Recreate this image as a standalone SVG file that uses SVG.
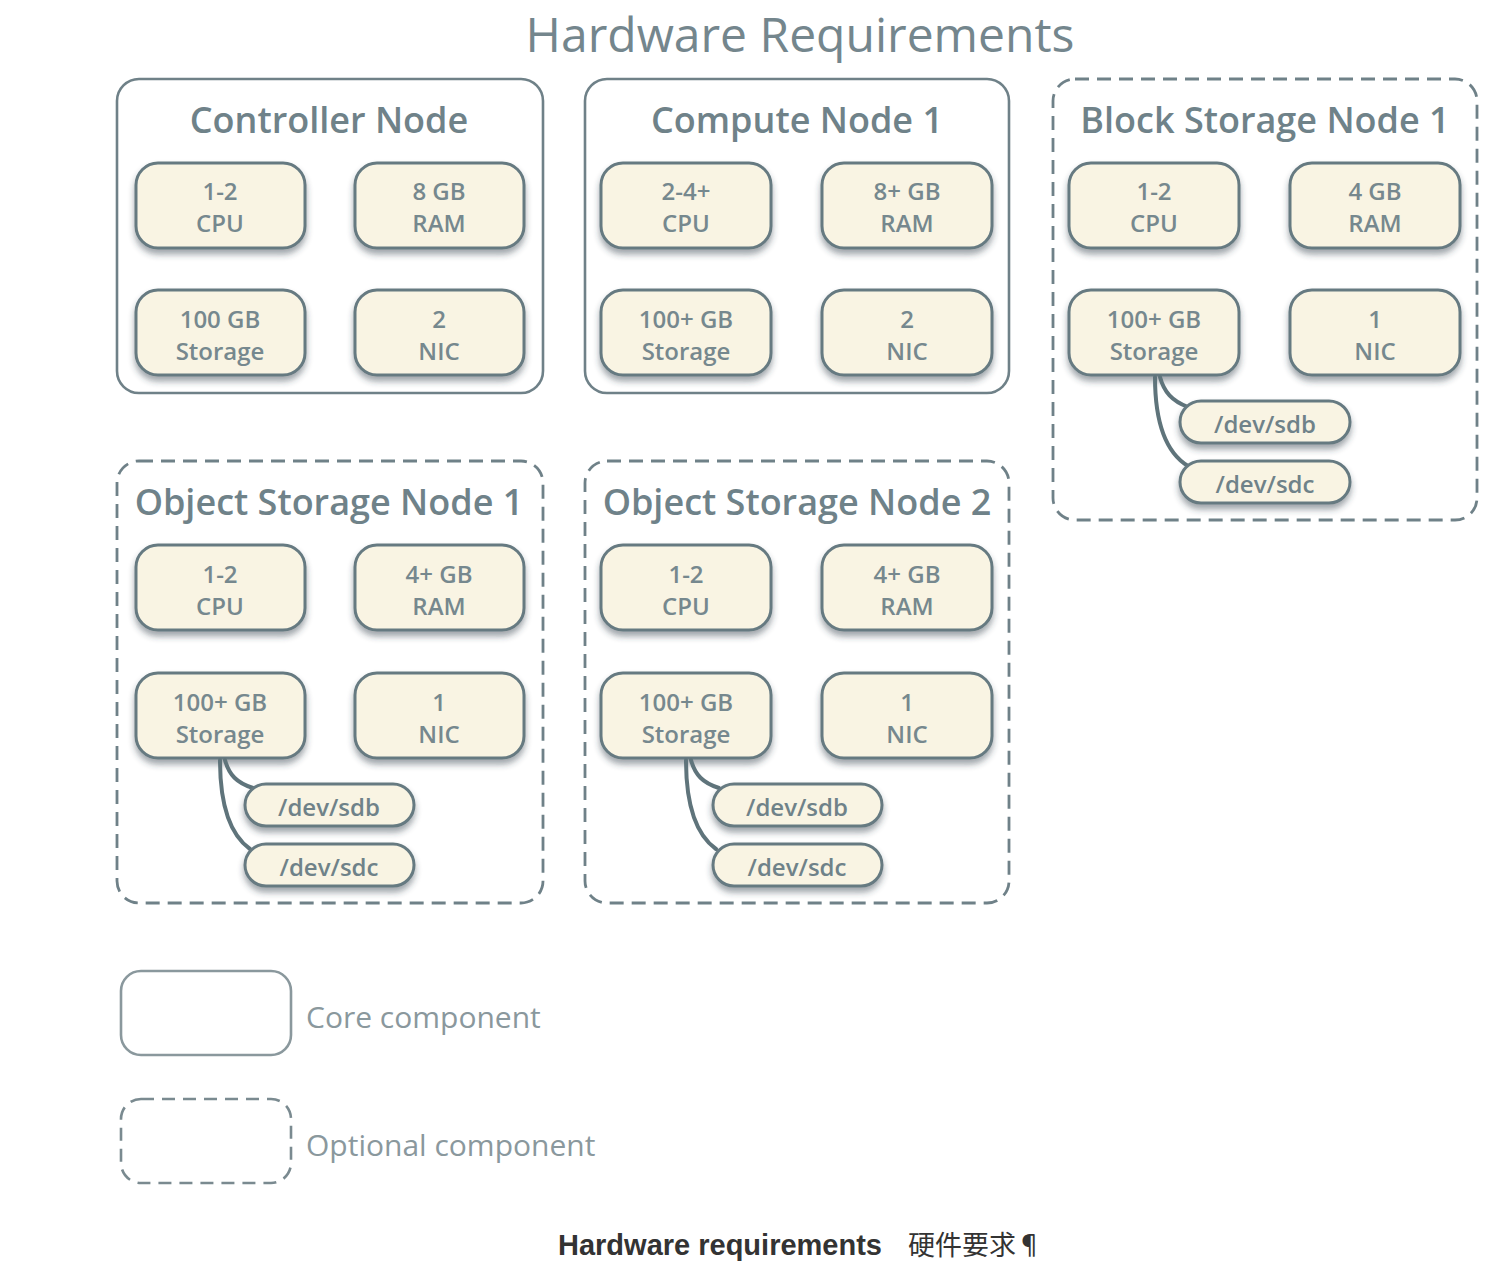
<svg xmlns="http://www.w3.org/2000/svg" width="1502" height="1286" viewBox="0 0 1502 1286">
<defs>
<filter id="sh" x="-20%" y="-20%" width="140%" height="160%">
<feDropShadow dx="0" dy="5" stdDeviation="3" flood-color="#2c3e44" flood-opacity="0.45"/>
</filter>
<style>
.node{fill:#fff;stroke:#6f8188;stroke-width:2.6}
.opt{fill:#fff;stroke:#6f8188;stroke-width:2.8;stroke-dasharray:14 8}
.comp{fill:#f9f4e3;stroke:#667a81;stroke-width:3;filter:url(#sh)}
.ntitle{font-family:"Open Sans","DejaVu Sans",sans-serif;font-weight:600;font-size:36px;fill:#6f8289;text-anchor:middle}
.ct{font-family:"Open Sans","DejaVu Sans",sans-serif;font-weight:600;font-size:24px;fill:#76888e;text-anchor:middle}
.pt{font-family:"Open Sans","DejaVu Sans",sans-serif;font-weight:600;font-size:24px;fill:#6f8289;text-anchor:middle}
.conn{fill:none;stroke:#5f747b;stroke-width:4;stroke-linecap:round}
.leg{font-family:"Open Sans","DejaVu Sans",sans-serif;font-size:30px;fill:#8a989d}
</style>
</defs>
<rect width="1502" height="1286" fill="#fff"/>
<text x="800" y="52" style="font-family:'Open Sans','DejaVu Sans',sans-serif;font-size:48px;fill:#74868d;text-anchor:middle">Hardware Requirements</text>

<g id="controller-node">
<rect class="node" x="117" y="79" width="426" height="314" rx="22"/>
<text class="ntitle" x="329" y="133">Controller Node</text>
<rect class="comp" x="136" y="163" width="169" height="85" rx="22"/>
<text class="ct" x="220" y="200">1-2</text><text class="ct" x="220" y="232">CPU</text>
<rect class="comp" x="355" y="163" width="169" height="85" rx="22"/>
<text class="ct" x="439" y="200">8 GB</text><text class="ct" x="439" y="232">RAM</text>
<rect class="comp" x="136" y="290" width="169" height="85" rx="22"/>
<text class="ct" x="220" y="328">100 GB</text><text class="ct" x="220" y="360">Storage</text>
<rect class="comp" x="355" y="290" width="169" height="85" rx="22"/>
<text class="ct" x="439" y="328">2</text><text class="ct" x="439" y="360">NIC</text>
</g>

<g id="compute-node-1">
<rect class="node" x="585" y="79" width="424" height="314" rx="22"/>
<text class="ntitle" x="797" y="133">Compute Node 1</text>
<rect class="comp" x="601" y="163" width="170" height="85" rx="22"/>
<text class="ct" x="686" y="200">2-4+</text><text class="ct" x="686" y="232">CPU</text>
<rect class="comp" x="822" y="163" width="170" height="85" rx="22"/>
<text class="ct" x="907" y="200">8+ GB</text><text class="ct" x="907" y="232">RAM</text>
<rect class="comp" x="601" y="290" width="170" height="85" rx="22"/>
<text class="ct" x="686" y="328">100+ GB</text><text class="ct" x="686" y="360">Storage</text>
<rect class="comp" x="822" y="290" width="170" height="85" rx="22"/>
<text class="ct" x="907" y="328">2</text><text class="ct" x="907" y="360">NIC</text>
</g>

<g id="block-storage-node-1">
<rect class="opt" x="1053" y="79" width="424" height="441" rx="22"/>
<text class="ntitle" x="1265" y="133">Block Storage Node 1</text>
<rect class="comp" x="1069" y="163" width="170" height="85" rx="22"/>
<text class="ct" x="1154" y="200">1-2</text><text class="ct" x="1154" y="232">CPU</text>
<rect class="comp" x="1290" y="163" width="170" height="85" rx="22"/>
<text class="ct" x="1375" y="200">4 GB</text><text class="ct" x="1375" y="232">RAM</text>
<rect class="comp" x="1069" y="290" width="170" height="85" rx="22"/>
<text class="ct" x="1154" y="328">100+ GB</text><text class="ct" x="1154" y="360">Storage</text>
<rect class="comp" x="1290" y="290" width="170" height="85" rx="22"/>
<text class="ct" x="1375" y="328">1</text><text class="ct" x="1375" y="360">NIC</text>
</g>

<g id="object-storage-node-1">
<rect class="opt" x="117" y="461" width="426" height="442" rx="22"/>
<text class="ntitle" x="329" y="515">Object Storage Node 1</text>
<rect class="comp" x="136" y="545" width="169" height="85" rx="22"/>
<text class="ct" x="220" y="583">1-2</text><text class="ct" x="220" y="615">CPU</text>
<rect class="comp" x="355" y="545" width="169" height="85" rx="22"/>
<text class="ct" x="439" y="583">4+ GB</text><text class="ct" x="439" y="615">RAM</text>
<rect class="comp" x="136" y="673" width="169" height="85" rx="22"/>
<text class="ct" x="220" y="711">100+ GB</text><text class="ct" x="220" y="743">Storage</text>
<rect class="comp" x="355" y="673" width="169" height="85" rx="22"/>
<text class="ct" x="439" y="711">1</text><text class="ct" x="439" y="743">NIC</text>
</g>

<g id="object-storage-node-2">
<rect class="opt" x="585" y="461" width="424" height="442" rx="22"/>
<text class="ntitle" x="797" y="515">Object Storage Node 2</text>
<rect class="comp" x="601" y="545" width="170" height="85" rx="22"/>
<text class="ct" x="686" y="583">1-2</text><text class="ct" x="686" y="615">CPU</text>
<rect class="comp" x="822" y="545" width="170" height="85" rx="22"/>
<text class="ct" x="907" y="583">4+ GB</text><text class="ct" x="907" y="615">RAM</text>
<rect class="comp" x="601" y="673" width="170" height="85" rx="22"/>
<text class="ct" x="686" y="711">100+ GB</text><text class="ct" x="686" y="743">Storage</text>
<rect class="comp" x="822" y="673" width="170" height="85" rx="22"/>
<text class="ct" x="907" y="711">1</text><text class="ct" x="907" y="743">NIC</text>
</g>

<g id="connectors">
<path class="conn" d="M1160 377 C1164 392,1172 401,1188 407"/>
<path class="conn" d="M1155 377 C1155 420,1165 452,1188 466"/>
<path class="conn" d="M225 760 C229 775,237 783,253 788"/>
<path class="conn" d="M220 760 C220 803,229 834,250 849"/>
<path class="conn" d="M691 760 C695 775,703 783,719 788"/>
<path class="conn" d="M686 760 C686 803,695 834,716 849"/>
</g>

<g id="block-sdb"><rect class="comp" x="1180" y="401" width="170" height="42" rx="21"/><text class="pt" x="1265" y="433">/dev/sdb</text></g>
<g id="block-sdc"><rect class="comp" x="1180" y="461" width="170" height="42" rx="21"/><text class="pt" x="1265" y="493">/dev/sdc</text></g>
<g id="obj1-sdb"><rect class="comp" x="245" y="784" width="169" height="42" rx="21"/><text class="pt" x="329" y="816">/dev/sdb</text></g>
<g id="obj1-sdc"><rect class="comp" x="245" y="844" width="169" height="42" rx="21"/><text class="pt" x="329" y="876">/dev/sdc</text></g>
<g id="obj2-sdb"><rect class="comp" x="713" y="784" width="169" height="42" rx="21"/><text class="pt" x="797" y="816">/dev/sdb</text></g>
<g id="obj2-sdc"><rect class="comp" x="713" y="844" width="169" height="42" rx="21"/><text class="pt" x="797" y="876">/dev/sdc</text></g>

<g id="legend-core">
<rect x="121" y="971" width="170" height="84" rx="20" fill="#fff" stroke="#8a989d" stroke-width="2.6"/>
<text class="leg" x="306" y="1028">Core component</text>
</g>
<g id="legend-optional">
<rect x="121" y="1099" width="170" height="84" rx="20" fill="#fff" stroke="#7a8a90" stroke-width="2.6" stroke-dasharray="13 8"/>
<text class="leg" x="306" y="1156">Optional component</text>
</g>

<text x="558" y="1255" style="font-family:'Liberation Sans',Arial,sans-serif;font-weight:bold;font-size:29px;fill:#333">Hardware requirements</text>
<text x="908" y="1255" style="font-family:'Noto Sans CJK SC',sans-serif;font-size:27px;fill:#333">硬件要求¶</text>
</svg>
